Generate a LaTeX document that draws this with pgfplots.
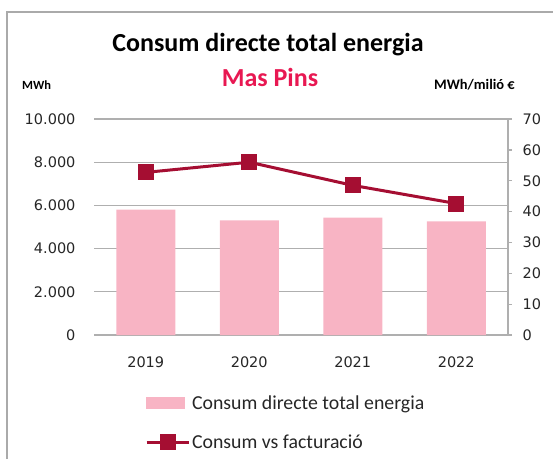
\documentclass[border=0pt]{standalone}
\usepackage{pgfplots}
\pgfplotsset{compat=1.18}
\usepackage{fontspec}
\setmainfont{Carlito}
\newfontfamily\dejavu{DejaVu Sans}
\definecolor{barpink}{RGB}{248,180,196}
\definecolor{linered}{RGB}{165,14,50}
\definecolor{subred}{RGB}{232,24,82}
\definecolor{gridgray}{RGB}{175,175,175}
\definecolor{framegray}{RGB}{170,170,170}
\definecolor{txt}{RGB}{38,38,38}
\pgfplotsset{
  lineleg/.style={legend image code/.code={%
    \draw[mark repeat=2, mark phase=2, ##1] plot coordinates {(0pt,0pt)(21pt,0pt)(42pt,0pt)};}},
  barleg/.style={legend image code/.code={%
    \fill[barpink] (0pt,-5.5pt) rectangle (38pt,5.5pt);}},
}

\begin{document}
\begin{tikzpicture}[x=1pt,y=1pt]
\useasboundingbox (0,0) rectangle (553,459);
\draw[framegray, line width=1.5pt] (7,0) -- (7,447) -- (553,447);
\node[anchor=base, font=\bfseries\fontsize{26}{26}\selectfont] at (268,407) {Consum directe total energia};
\node[anchor=base, font=\bfseries\fontsize{26}{26}\selectfont, text=subred] at (270,373) {Mas Pins};
\node[anchor=base west, inner sep=0pt, font=\bfseries\fontsize{12.5}{12.5}\selectfont] at (22,370) {MWh};
\node[anchor=base east, inner sep=0pt, font=\bfseries\fontsize{14.5}{14.5}\selectfont] at (515,370) {MWh/milió €};

% bars, left axis
\begin{axis}[
  at={(94pt,124pt)}, anchor=south west,
  scale only axis, width=414pt, height=216pt,
  xmin=-0.5, xmax=3.5, ymin=0, ymax=10000,
  axis line style={draw=none},
  major tick length=0pt,
  xtick={0,1,2,3}, xticklabels={2019,2020,2021,2022},
  ytick={0,2000,4000,6000,8000,10000},
  scaled y ticks=false,
  yticklabel style={/pgf/number format/fixed, /pgf/number format/1000 sep={.}},
  /pgf/number format/assume math mode=true,
  tick label style={font=\dejavu\fontsize{14.5}{14.5}\selectfont, text=txt},
  yticklabel style={xshift=-15pt},
  xticklabel style={yshift=-18pt},
  ymajorgrids, grid style={gridgray, line width=1.3pt},
  ybar, bar width=59pt,
]
\addplot[fill=barpink, draw=none] coordinates {(0,5806) (1,5312) (2,5436) (3,5266)};
\end{axis}

% line, right axis
\begin{axis}[
  at={(94pt,124pt)}, anchor=south west,
  scale only axis, width=414pt, height=216pt,
  xmin=-0.5, xmax=3.5, ymin=0, ymax=70,
  axis x line=none, axis y line*=right,
  axis line style={gridgray, line width=1.3pt},
  ytick={0,10,20,30,40,50,60,70},
  tick align=outside, major tick length=4pt,
  tick style={gridgray, line width=1.3pt},
  /pgf/number format/assume math mode=true,
  yticklabel style={font=\dejavu\fontsize{14.5}{14.5}\selectfont, text=txt, xshift=7pt},
  legend style={at={(axis description cs:0.1156,-0.26)}, anchor=north west,
    draw=none, fill=none, font=\fontsize{19.8}{19.8}\selectfont, text=txt,
    row sep=20pt, /tikz/every even column/.style={column sep=0pt}},
  legend cell align=left,
]
\addlegendimage{barleg}
\addlegendentry{Consum directe total energia}
\addplot[linered, line width=3pt, mark=square*, mark size=6.5pt, lineleg]
  coordinates {(0,52.7) (1,56.0) (2,48.5) (3,42.6)};
\addlegendentry{Consum vs facturació}
\end{axis}
\end{tikzpicture}
\end{document}
